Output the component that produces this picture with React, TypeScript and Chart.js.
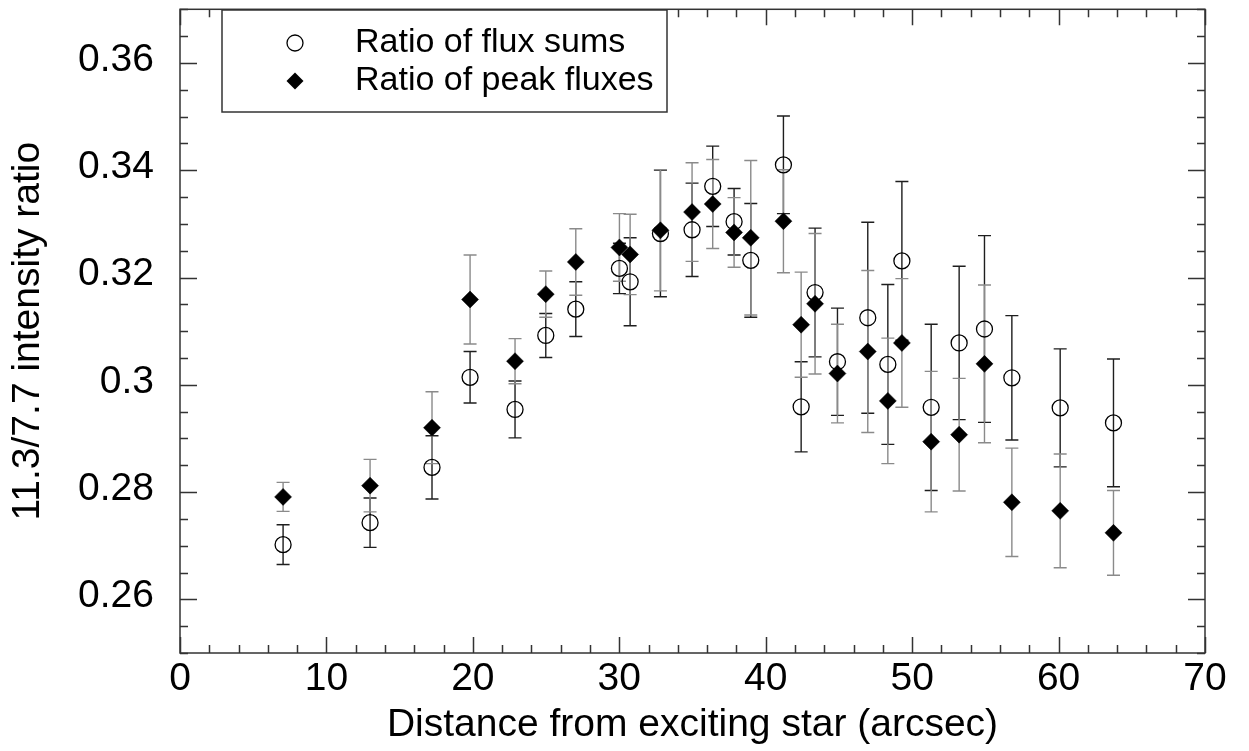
import React, { useEffect, useRef } from 'react';
import { Chart, registerables } from 'chart.js';

Chart.register(...registerables);

const FONT = '"Liberation Sans", Arial, Helvetica, sans-serif';

// Distance from exciting star (arcsec)
const DISTANCE = [7.04, 12.98, 17.21, 19.81, 22.88, 24.98, 27.03, 30.01, 30.74, 32.81, 34.97, 36.38, 37.84, 38.98, 41.21, 42.42, 43.37, 44.9, 46.97, 48.34, 49.3, 51.3, 53.21, 54.94, 56.81, 60.11, 63.75];

// Ratio of flux sums (open circles)
const SUM_RATIO = [0.2702, 0.2743, 0.2846, 0.3014, 0.2954, 0.3092, 0.3141, 0.3217, 0.3192, 0.3282, 0.3289, 0.337, 0.3304, 0.3232, 0.341, 0.2959, 0.3172, 0.3043, 0.3125, 0.3038, 0.3231, 0.2958, 0.3078, 0.3104, 0.3013, 0.2957, 0.2929];
const SUM_ERR = [0.0037, 0.0046, 0.0059, 0.0048, 0.0053, 0.0041, 0.0051, 0.0047, 0.0082, 0.0118, 0.0087, 0.0075, 0.0062, 0.0106, 0.0091, 0.0084, 0.012, 0.01, 0.0178, 0.0149, 0.0148, 0.0155, 0.0143, 0.0174, 0.0116, 0.011, 0.0119];

// Ratio of peak fluxes (filled diamonds)
const PEAK_RATIO = [0.2791, 0.2812, 0.292, 0.3159, 0.3044, 0.3169, 0.3229, 0.3256, 0.3243, 0.3288, 0.3322, 0.3337, 0.3284, 0.3274, 0.3305, 0.3112, 0.3151, 0.3021, 0.3062, 0.297, 0.3078, 0.2894, 0.2907, 0.3039, 0.2781, 0.2765, 0.2724];
const PEAK_ERR = [0.0027, 0.0049, 0.0067, 0.0083, 0.0042, 0.0043, 0.0062, 0.0063, 0.0075, 0.0113, 0.0092, 0.0083, 0.0065, 0.0144, 0.0096, 0.0098, 0.0131, 0.0092, 0.0151, 0.0117, 0.012, 0.0131, 0.0105, 0.0147, 0.0101, 0.0106, 0.0079];

const X_MIN = 0;
const X_MAX = 70;
const X_TICKS = [0, 10, 20, 30, 40, 50, 60, 70];
const X_MINOR_STEP = 2;

const Y_MIN = 0.25;
const Y_MAX = 0.37;
const Y_TICKS = [0.26, 0.28, 0.3, 0.32, 0.34, 0.36];
const Y_TICK_LABELS = ['0.26', '0.28', '0.3', '0.32', '0.34', '0.36'];
const Y_MINOR_STEP = 0.005;

const SERIES_LABELS = ['Ratio of flux sums', 'Ratio of peak fluxes'];
const X_TITLE = 'Distance from exciting star (arcsec)';
const Y_TITLE = '11.3/7.7 intensity ratio';

const AXIS_COLOR = '#333333';

const errorBarPlugin = {
  id: 'errorBars',
  beforeDatasetsDraw(chart: any) {
    const { ctx, scales } = chart;
    const x = scales.x;
    const y = scales.y;
    const sets = [
      { vals: SUM_RATIO, errs: SUM_ERR, color: '#1e1e1e' },
      { vals: PEAK_RATIO, errs: PEAK_ERR, color: '#8a8a8a' },
    ];
    ctx.save();
    ctx.lineWidth = 1.4;
    sets.forEach((s) => {
      ctx.strokeStyle = s.color;
      s.vals.forEach((v, j) => {
        const px = x.getPixelForValue(DISTANCE[j]);
        const top = y.getPixelForValue(v + s.errs[j]);
        const bot = y.getPixelForValue(v - s.errs[j]);
        ctx.beginPath();
        ctx.moveTo(px, top);
        ctx.lineTo(px, bot);
        ctx.moveTo(px - 6.5, top);
        ctx.lineTo(px + 6.5, top);
        ctx.moveTo(px - 6.5, bot);
        ctx.lineTo(px + 6.5, bot);
        ctx.stroke();
      });
    });
    ctx.restore();
  },
};

const frameTicksPlugin = {
  id: 'frameTicks',
  afterDatasetsDraw(chart: any) {
    const { ctx, chartArea, scales } = chart;
    const x = scales.x;
    const y = scales.y;
    const { left, right, top, bottom } = chartArea;
    ctx.save();
    ctx.strokeStyle = AXIS_COLOR;
    ctx.lineWidth = 1.5;
    ctx.beginPath();
    const nx = Math.round((X_MAX - X_MIN) / X_MINOR_STEP);
    for (let i = 0; i <= nx; i++) {
      const v = X_MIN + i * X_MINOR_STEP;
      const px = Math.round(x.getPixelForValue(v)) + 0.5;
      const major = X_TICKS.indexOf(v) >= 0;
      const len = major ? 16 : 8;
      ctx.moveTo(px, bottom);
      ctx.lineTo(px, bottom - len);
      ctx.moveTo(px, top);
      ctx.lineTo(px, top + len);
    }
    const ny = Math.round((Y_MAX - Y_MIN) / Y_MINOR_STEP);
    for (let i = 0; i <= ny; i++) {
      const v = Y_MIN + i * Y_MINOR_STEP;
      const py = Math.round(y.getPixelForValue(v)) + 0.5;
      const major = Y_TICKS.some((t) => Math.abs(t - v) < 1e-9);
      const len = major ? 17 : 8;
      ctx.moveTo(left, py);
      ctx.lineTo(left + len, py);
      ctx.moveTo(right, py);
      ctx.lineTo(right - len, py);
    }
    ctx.stroke();
    ctx.strokeRect(left, top, right - left, bottom - top);
    ctx.restore();
  },
  afterDraw(chart: any) {
    const { ctx } = chart;
    const boxLeft = 222;
    const boxTop = 10;
    const boxW = 445;
    const boxH = 102;
    ctx.save();
    ctx.fillStyle = '#ffffff';
    ctx.fillRect(boxLeft, boxTop, boxW, boxH);
    ctx.strokeStyle = AXIS_COLOR;
    ctx.lineWidth = 1.5;
    ctx.strokeRect(boxLeft, boxTop, boxW, boxH);
    const rows = [43, 81];
    chart.data.datasets.forEach((ds: any, i: number) => {
      const cy = rows[i];
      const cx = 295;
      ctx.beginPath();
      if (ds.pointStyle === 'circle') {
        ctx.arc(cx, cy, 8, 0, Math.PI * 2);
        ctx.lineWidth = 1.3;
        ctx.strokeStyle = '#000';
        ctx.stroke();
      } else {
        const r = 8.5;
        ctx.moveTo(cx - r, cy);
        ctx.lineTo(cx, cy - r);
        ctx.lineTo(cx + r, cy);
        ctx.lineTo(cx, cy + r);
        ctx.closePath();
        ctx.fillStyle = '#000';
        ctx.fill();
      }
      ctx.fillStyle = '#000';
      ctx.font = `34px ${FONT}`;
      ctx.textBaseline = 'middle';
      ctx.textAlign = 'left';
      ctx.fillText(ds.label, 355, cy);
    });
    ctx.restore();
  },
};

export default function App() {
  const canvasRef = useRef<HTMLCanvasElement | null>(null);

  useEffect(() => {
    const canvas = canvasRef.current;
    if (!canvas) return;
    const chart = new Chart(canvas, {
      type: 'scatter',
      data: {
        datasets: [
          {
            label: SERIES_LABELS[0],
            data: DISTANCE.map((d, i) => ({ x: d, y: SUM_RATIO[i] })),
            pointStyle: 'circle',
            pointRadius: 8,
            pointBorderWidth: 1.3,
            borderColor: '#000',
            backgroundColor: 'rgba(0,0,0,0)',
            order: 2,
          },
          {
            label: SERIES_LABELS[1],
            data: DISTANCE.map((d, i) => ({ x: d, y: PEAK_RATIO[i] })),
            pointStyle: 'rectRot',
            pointRadius: 8.5,
            pointBorderWidth: 0.5,
            borderColor: '#000',
            backgroundColor: '#000',
            order: 1,
          },
        ],
      },
      options: {
        animation: false,
        responsive: true,
        maintainAspectRatio: false,
        events: [],
        layout: { padding: { top: 5, right: 44, left: 0, bottom: 0 } },
        plugins: {
          legend: { display: false },
          tooltip: { enabled: false },
        },
        scales: {
          x: {
            type: 'linear',
            min: X_MIN,
            max: X_MAX,
            afterBuildTicks: (scale: any) => {
              scale.ticks = X_TICKS.map((v) => ({ value: v }));
            },
            afterFit: (scale: any) => {
              scale.height = 98;
              scale.paddingLeft = 0;
              scale.paddingRight = 0;
            },
            grid: { display: false, drawTicks: false },
            border: { display: false },
            ticks: {
              color: '#000',
              font: { family: FONT, size: 39 },
              padding: 3,
              maxRotation: 0,
              autoSkip: false,
            },
            title: {
              display: true,
              text: X_TITLE,
              color: '#000',
              font: { family: FONT, size: 39 },
              padding: { top: 0, bottom: 2 },
            },
          },
          y: {
            type: 'linear',
            min: Y_MIN,
            max: Y_MAX,
            afterBuildTicks: (scale: any) => {
              scale.ticks = Y_TICKS.map((v) => ({ value: v }));
            },
            afterFit: (scale: any) => {
              scale.width = 180;
              scale.paddingTop = 0;
              scale.paddingBottom = 0;
            },
            grid: { display: false, drawTicks: false },
            border: { display: false },
            ticks: {
              color: '#000',
              font: { family: FONT, size: 39 },
              padding: 26,
              labelOffset: -3,
              autoSkip: false,
              callback: (_v: any, i: number) => Y_TICK_LABELS[i],
            },
            title: {
              display: true,
              text: Y_TITLE,
              color: '#000',
              font: { family: FONT, size: 39 },
              padding: { top: 5, bottom: 0 },
            },
          },
        },
      },
      plugins: [errorBarPlugin, frameTicksPlugin],
    });
    return () => chart.destroy();
  }, []);

  return (
    <div style={{ position: 'absolute', left: 0, top: 0, width: 1249, height: 751, background: '#fff' }}>
      <canvas ref={canvasRef} />
    </div>
  );
}
